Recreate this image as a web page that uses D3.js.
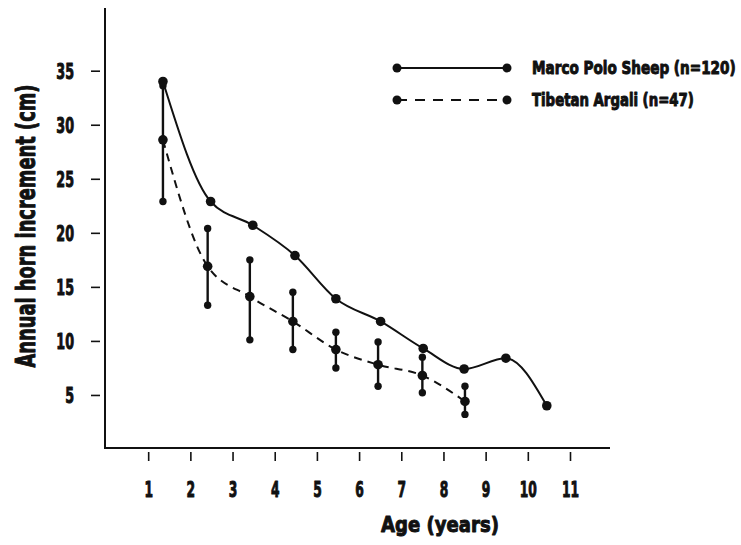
<!DOCTYPE html>
<html><head><meta charset="utf-8">
<script src="https://cdn.jsdelivr.net/npm/d3@7"></script>
<style>
body{margin:0;background:#fff;}
text{font-family:"DejaVu Sans",sans-serif;font-weight:bold;fill:#111;stroke:#111;stroke-width:1px;stroke-linejoin:round;}
</style></head>
<body><svg id="c" width="741" height="545"></svg>
<script>
const xTicks = [1,2,3,4,5,6,7,8,9,10,11];
const yTicks = [5,10,15,20,25,30,35];
const mpAges = [1.35, 2.48, 3.48, 4.48, 5.45, 6.51, 7.52, 8.49, 9.48, 10.45];
const mpValues = [34.0, 22.9, 20.7, 17.9, 13.9, 11.8, 9.3, 7.4, 8.4, 4.0];
const taAges = [1.35, 2.41, 3.41, 4.43, 5.45, 6.45, 7.5, 8.51];
const taMean = [28.6, 16.9, 14.1, 11.8, 9.2, 7.8, 6.8, 4.4];
const taHigh = [33.6, 20.4, 17.5, 14.5, 10.8, 9.9, 8.5, 5.8];
const taLow  = [22.9, 13.3, 10.1, 9.2, 7.5, 5.8, 5.2, 3.2];
const seriesNames = ["Marco Polo Sheep  (n=120)", "Tibetan Argali (n=47)"];

const svg = d3.select("#c");
const x = d3.scaleLinear().domain([0, 11]).range([106, 570]);
const y = d3.scaleLinear().domain([0, 35]).range([449, 70.7]);
const ink = "#111";

// place text condensed to a target width via a horizontal scale transform
function fitText(t, tx, ty, target, rot){
  const w = t.node().getComputedTextLength();
  const s = target / w;
  t.attr("transform", `translate(${tx},${ty})` + (rot ? ` rotate(${rot})` : "") + ` scale(${s},1)`);
}

// axis frame
svg.append("path").attr("d", "M105,8V448H610").attr("fill","none").attr("stroke",ink).attr("stroke-width",2);

// y axis ticks
const ya = svg.append("g").attr("transform","translate(100,0)")
  .call(d3.axisLeft(y).tickValues(yTicks).tickSize(9).tickPadding(17).tickFormat(d3.format("d")));
ya.select(".domain").remove();
ya.selectAll(".tick line").attr("stroke",ink).attr("stroke-width",1.6);
ya.selectAll(".tick text").attr("font-size",20.5).attr("dy","0.36em").attr("x",0)
  .attr("transform","translate(-26,0) scale(0.62,1)");

// x axis ticks
const xa = svg.append("g").attr("transform","translate(0,452)")
  .call(d3.axisBottom(x).tickValues(xTicks).tickSize(9).tickPadding(21).tickFormat(d3.format("d")));
xa.select(".domain").remove();
xa.selectAll(".tick line").attr("stroke",ink).attr("stroke-width",1.6);
xa.selectAll(".tick text").attr("font-size",20.5).attr("transform","scale(0.6,1)");

// axis titles
const xt = svg.append("text").attr("text-anchor","middle").attr("font-size",21.5).text("Age (years)");
fitText(xt, 440, 532, 118);
const yt = svg.append("text").attr("text-anchor","middle").attr("font-size",26).text("Annual horn increment (cm)");
fitText(yt, 35, 226, 283, -90);

const curve = d3.curveMonotoneX;
// error bars
const eb = svg.append("g");
taAges.forEach((a,i)=>{
  eb.append("line").attr("x1",x(a)).attr("x2",x(a)).attr("y1",y(taLow[i])).attr("y2",y(taHigh[i]))
    .attr("stroke",ink).attr("stroke-width",2.4);
  eb.append("circle").attr("cx",x(a)).attr("cy",y(taLow[i])).attr("r",3.7).attr("fill",ink);
  eb.append("circle").attr("cx",x(a)).attr("cy",y(taHigh[i])).attr("r",3.7).attr("fill",ink);
});

// lines
const mpLine = d3.line().x((d,i)=>x(mpAges[i])).y(d=>y(d)).curve(curve);
svg.append("path").attr("d", mpLine(mpValues)).attr("fill","none").attr("stroke",ink).attr("stroke-width",2);
const taLine = d3.line().x((d,i)=>x(taAges[i])).y(d=>y(d)).curve(curve);
svg.append("path").attr("d", taLine(taMean)).attr("fill","none").attr("stroke",ink).attr("stroke-width",2).attr("stroke-dasharray","8,6");

svg.append("g").selectAll("circle").data(mpValues).join("circle")
  .attr("cx",(d,i)=>x(mpAges[i])).attr("cy",d=>y(d)).attr("r",4.8).attr("fill",ink);
svg.append("g").selectAll("circle").data(taMean).join("circle")
  .attr("cx",(d,i)=>x(taAges[i])).attr("cy",d=>y(d)).attr("r",4.8).attr("fill",ink);

// legend
const lg = svg.append("g");
[0,1].forEach(k=>{
  const ly = k===0 ? 68 : 100;
  lg.append("line").attr("x1",397).attr("x2",507).attr("y1",ly).attr("y2",ly)
    .attr("stroke",ink).attr("stroke-width",2).attr("stroke-dasharray", k===0 ? null : "10,8");
  lg.append("circle").attr("cx",397).attr("cy",ly).attr("r",4.5).attr("fill",ink);
  lg.append("circle").attr("cx",507).attr("cy",ly).attr("r",4.5).attr("fill",ink);
  const t = lg.append("text").attr("font-size",17).text(seriesNames[k]);
  fitText(t, 532, ly+6, k===0 ? 204 : 162);
});
</script></body></html>
